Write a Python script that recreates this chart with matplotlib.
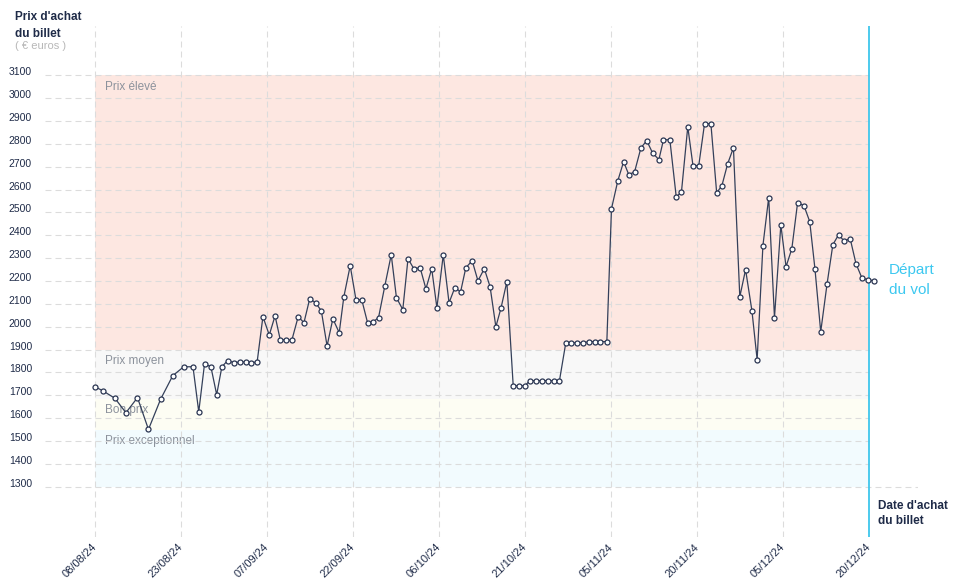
import matplotlib
matplotlib.use("Agg")
import matplotlib.pyplot as plt
import numpy as np

plt.rcParams['font.family'] = ['Liberation Sans', 'DejaVu Sans']
plt.rcParams['lines.scale_dashes'] = False

# jours depuis le 08/08/24 et prix relevés (euros)
jours = [0.0, 1.4, 3.5, 5.4, 7.4, 9.3, 11.4, 13.5, 15.4, 17.0,
         18.0, 19.0, 20.1, 21.1, 22.0, 23.0, 24.1, 25.1, 26.1, 27.1,
         28.1, 29.1, 30.2, 31.2, 32.1, 33.1, 34.1, 35.2, 36.2, 37.2,
         38.2, 39.2, 40.2, 41.2, 42.3, 43.1, 44.2, 45.2, 46.2, 47.2,
         48.2, 49.1, 50.2, 51.3, 52.2, 53.3, 54.2, 55.2, 56.3, 57.3,
         58.3, 59.2, 60.3, 61.3, 62.3, 63.3, 64.2, 65.3, 66.3, 67.4,
         68.4, 69.4, 70.3, 71.3, 72.4, 73.4, 74.4, 75.3, 76.3, 77.4,
         78.4, 79.4, 80.4, 81.5, 82.4, 83.4, 84.5, 85.5, 86.5, 87.5,
         88.6, 89.4, 90.5, 91.5, 92.4, 93.4, 94.5, 95.5, 96.5, 97.6,
         98.4, 99.5, 100.6, 101.5, 102.6, 103.5, 104.5, 105.5, 106.6, 107.6,
         108.5, 109.5, 110.5, 111.6, 112.6, 113.7, 114.6, 115.6, 116.6, 117.6,
         118.7, 119.6, 120.6, 121.6, 122.7, 123.7, 124.6, 125.6, 126.7, 127.7,
         128.7, 129.6, 130.7, 131.7, 132.7, 133.7, 134.8]
prix = [1738, 1720, 1687, 1624, 1690, 1551, 1683, 1786, 1825, 1825,
        1628, 1838, 1825, 1703, 1825, 1852, 1843, 1846, 1846, 1843,
        1846, 2044, 1964, 2048, 1943, 1943, 1941, 2044, 2018, 2123,
        2105, 2070, 1916, 2035, 1974, 2131, 2267, 2118, 2118, 2018,
        2022, 2040, 2180, 2315, 2127, 2075, 2298, 2254, 2258, 2166,
        2254, 2083, 2315, 2105, 2171, 2153, 2258, 2289, 2201, 2254,
        2175, 2000, 2083, 2197, 1742, 1742, 1742, 1764, 1764, 1764,
        1764, 1764, 1764, 1930, 1930, 1930, 1930, 1935, 1935, 1935,
        1935, 2516, 2639, 2722, 2665, 2678, 2783, 2814, 2761, 2731,
        2818, 2818, 2569, 2588, 2875, 2705, 2705, 2888, 2888, 2586,
        2617, 2713, 2783, 2131, 2250, 2070, 1856, 2355, 2565, 2040,
        2446, 2263, 2341, 2543, 2530, 2460, 2254, 1978, 2188, 2359,
        2403, 2376, 2385, 2276, 2215, 2206, 2201]

tick_labels = ['08/08/24', '23/08/24', '07/09/24', '22/09/24', '06/10/24',
               '21/10/24', '05/11/24', '20/11/24', '05/12/24', '20/12/24']
depart = 134  # 20/12/24

zones = ['Prix élevé', 'Prix moyen', 'Bon prix', 'Prix exceptionnel']
zone_bas = [1900, 1685, 1550, 1300]
zone_haut = [3100, 1900, 1685, 1550]
zone_couleurs = ['#fde7e1', '#f8f8f8', '#fdfdf3', '#f2fbfe']

y_ticks = list(range(1300, 3200, 100))

navy = '#1f2b48'
cyan = '#3ec6ec'
grid_col = '#dcdcdc'
dash = (0, (4.3, 2.9))

fig = plt.figure(figsize=(9.58, 5.85), dpi=100)
ax = fig.add_axes([45 / 958, 48 / 585, 873 / 958, 511 / 585])
ax.set_xlim(-8.6, 142.43)
ax.set_ylim(1080.3, 3315.7)
for s in ax.spines.values():
    s.set_visible(False)

# zones de prix
for nom, bas, haut, c in zip(zones, zone_bas, zone_haut, zone_couleurs):
    ax.fill_between([0, depart], bas, haut, color=c, lw=0, zorder=0)
    ax.annotate(nom, (0, haut), xytext=(7.5, -8.2), textcoords='offset points',
                va='center', ha='left', fontsize=8.5, color='#8c929c', zorder=1)

# grille
xfrac_depart = (depart + 8.6) / (142.43 + 8.6)
for v in y_ticks:
    ax.axhline(v, xmin=0, xmax=1 if v == 1300 else xfrac_depart,
               color=grid_col, lw=0.8, ls=dash, zorder=1)
    ax.text(-0.0149, v, str(v), transform=ax.get_yaxis_transform(),
            ha='right', va='baseline', fontsize=7.5, color=navy)

tick_pos = np.linspace(0, depart, len(tick_labels))
for t in tick_pos[:-1]:
    ax.axvline(t, color=grid_col, lw=0.8, ls=dash, zorder=1)
ax.axvline(depart, color=cyan, lw=1.3, zorder=2)

ax.plot(jours, prix, color='#34405a', lw=0.9, marker='o', markersize=3.6,
        markerfacecolor='white', markeredgecolor='#2a3552', markeredgewidth=0.9,
        zorder=3, clip_on=False)

ax.set_yticks([])
ax.set_xticks(tick_pos)
ax.set_xticklabels(tick_labels, rotation=45, ha='right', va='center',
                   rotation_mode='anchor', fontsize=8, color=navy)
ax.tick_params(axis='x', length=0, pad=6)

# textes
fig.text(15 / 958, 1 - 17 / 585, "Prix d'achat", fontsize=8.5, fontweight='bold',
         color=navy, va='center')
fig.text(15 / 958, 1 - 34 / 585, "du billet", fontsize=8.5, fontweight='bold',
         color=navy, va='center')
fig.text(15 / 958, 1 - 46 / 585, "( € euros )", fontsize=8, color='#b8b8b8',
         va='center')
fig.text(878 / 958, 1 - 506 / 585, "Date d'achat", fontsize=8.5, fontweight='bold',
         color=navy, va='center')
fig.text(878 / 958, 1 - 521 / 585, "du billet", fontsize=8.5, fontweight='bold',
         color=navy, va='center')
fig.text(889 / 958, 1 - 270 / 585, "Départ", fontsize=11, color='#3cc8f0',
         va='center')
fig.text(889 / 958, 1 - 290 / 585, "du vol", fontsize=11, color='#3cc8f0',
         va='center')

fig.savefig('out.png', dpi=100)
